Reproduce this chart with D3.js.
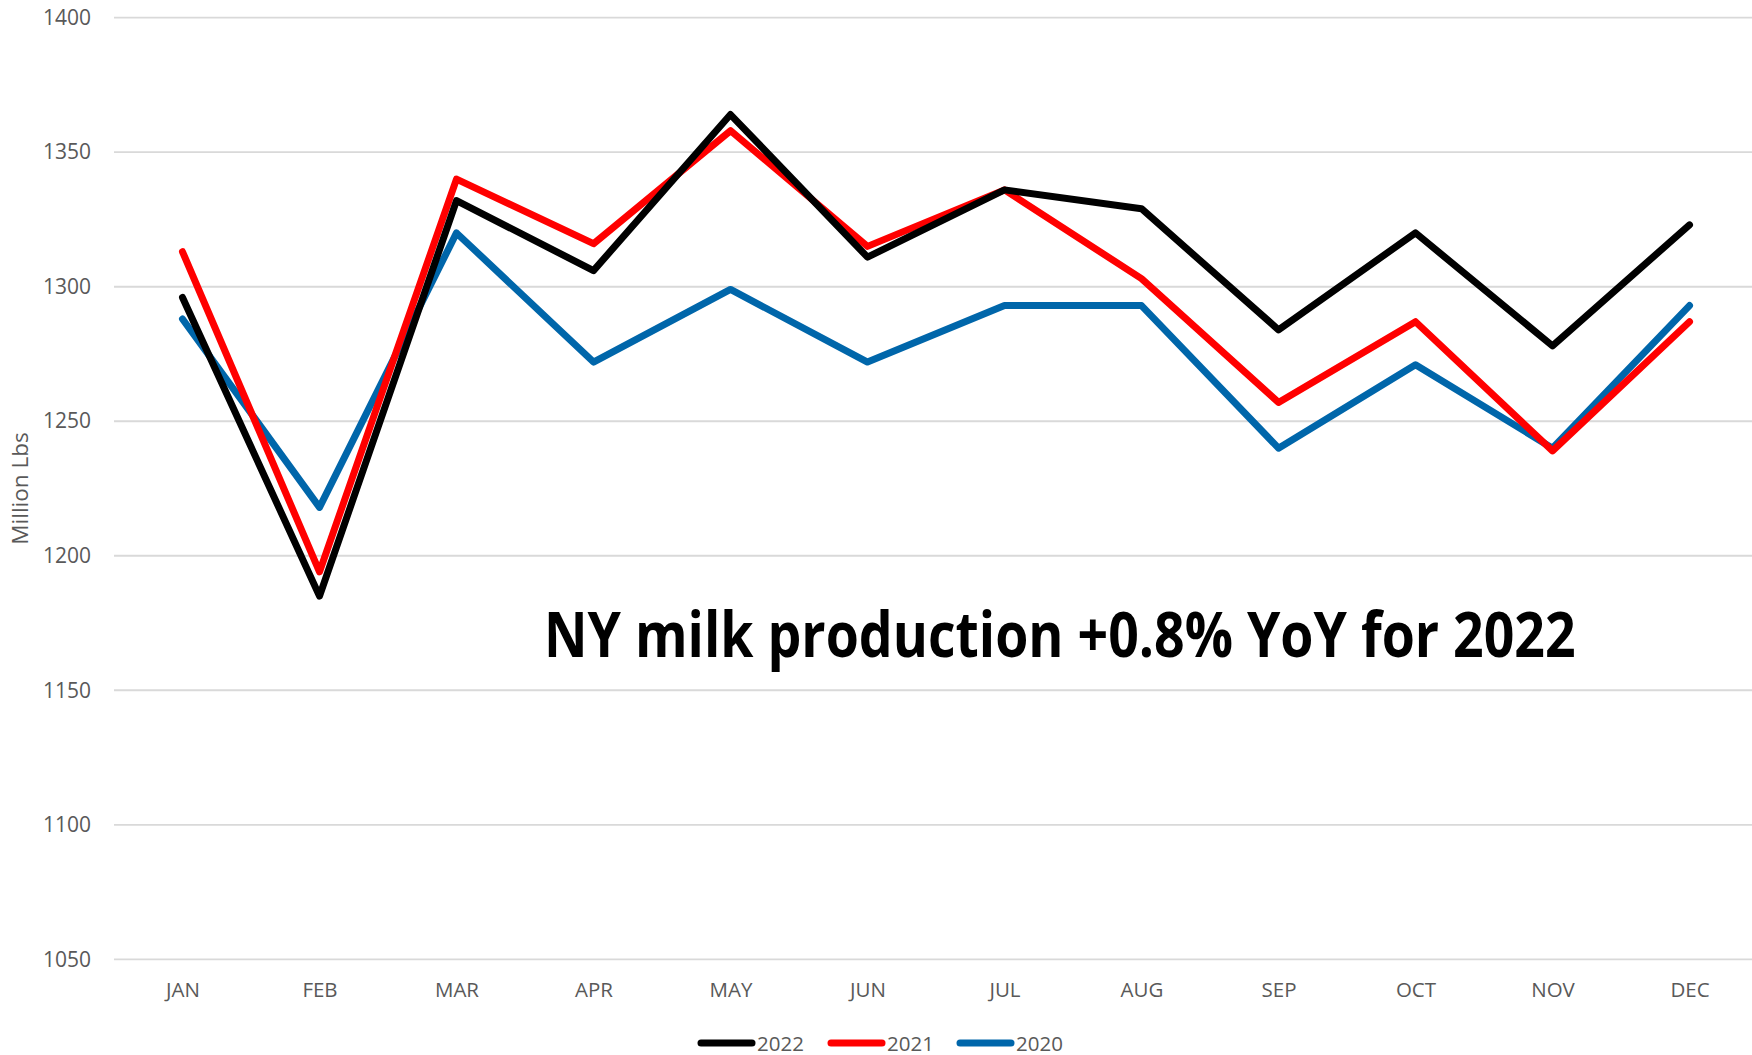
<!DOCTYPE html>
<html>
<head>
<meta charset="utf-8">
<script src="https://cdn.jsdelivr.net/npm/d3@7"></script>
<style>
  html, body { margin: 0; padding: 0; background: #fff; }
  svg { display: block; font-family: "Open Sans", "Noto Sans", sans-serif; }
</style>
</head>
<body>
<div id="chart"></div>
<script>
// NY monthly milk production, million lbs
var months = ["JAN", "FEB", "MAR", "APR", "MAY", "JUN", "JUL", "AUG", "SEP", "OCT", "NOV", "DEC"];
var years = ["2022", "2021", "2020"];
var values2022 = [1296, 1185, 1332, 1306, 1364, 1311, 1336, 1329, 1284, 1320, 1278, 1323];
var values2021 = [1313, 1194, 1340, 1316, 1358, 1315, 1336, 1303, 1257, 1287, 1239, 1287];
var values2020 = [1288, 1218, 1320, 1272, 1299, 1272, 1293, 1293, 1240, 1271, 1240, 1293];
var yTicks = [1050, 1100, 1150, 1200, 1250, 1300, 1350, 1400];
var note = "NY milk production +0.8% YoY for 2022";

(function() {
	var width = 1752, height = 1055;
	var margin = { top: 17.7, left: 114, right: -6, bottom: 95.7 };

	var colors = { "2022": "#000000", "2021": "#ff0000", "2020": "#0066aa" };
	var series = [
		{ year: "2022", values: values2022 },
		{ year: "2021", values: values2021 },
		{ year: "2020", values: values2020 }
	];

	var svg = d3.select("#chart")
		.append("svg")
		.attr("width", width)
		.attr("height", height);

	var xScale = d3.scalePoint()
		.domain(months)
		.range([margin.left, width - margin.right])
		.padding(0.5);

	var yScale = d3.scaleLinear()
		.domain([1050, 1400])
		.range([height - margin.bottom, margin.top]);

	// gridlines
	svg.append("g")
		.selectAll("line")
		.data(yTicks)
		.enter()
		.append("line")
		.attr("x1", margin.left)
		.attr("x2", width)
		.attr("y1", function(d) { return yScale(d); })
		.attr("y2", function(d) { return yScale(d); })
		.attr("stroke", "#d9d9d9")
		.attr("stroke-width", 1.8);

	// y axis labels
	var yAxis = d3.axisLeft(yScale)
		.tickValues(yTicks)
		.tickFormat(d3.format("d"))
		.tickSize(0)
		.tickPadding(23);
	var gy = svg.append("g")
		.attr("transform", "translate(" + margin.left + ",0)")
		.call(yAxis);
	gy.select(".domain").remove();
	gy.selectAll("text")
		.attr("fill", "#595959")
		.style("font-size", "21px")
		.style("font-family", "'Open Sans', sans-serif");

	// x axis labels
	var xAxis = d3.axisBottom(xScale).tickSize(0).tickPadding(23);
	var gx = svg.append("g")
		.attr("transform", "translate(0," + yScale(1050) + ")")
		.call(xAxis);
	gx.select(".domain").remove();
	gx.selectAll("text")
		.attr("fill", "#595959")
		.style("font-size", "20.5px")
		.style("font-family", "'Open Sans', sans-serif");

	// y title
	svg.append("text")
		.attr("transform", "translate(28," + yScale(1225) + ") rotate(-90)")
		.attr("text-anchor", "middle")
		.attr("fill", "#595959")
		.style("font-size", "22.5px")
		.text("Million Lbs");

	// lines
	var line = d3.line()
		.x(function(d, i) { return xScale(months[i]); })
		.y(function(d) { return yScale(d); });

	svg.append("g")
		.selectAll("path")
		.data(series.slice().reverse())
		.enter()
		.append("path")
		.attr("d", function(d) { return line(d.values); })
		.attr("fill", "none")
		.attr("stroke", function(d) { return colors[d.year]; })
		.attr("stroke-width", 7)
		.attr("stroke-linejoin", "round")
		.attr("stroke-linecap", "round");

	// annotation, squeezed horizontally to look like a condensed bold face
	var noteG = svg.append("g");
	var noteText = noteG.append("text")
		.attr("x", 0)
		.attr("y", 0)
		.attr("fill", "#000")
		.style("font-size", "62px")
		.style("font-weight", "bold")
		.style("font-family", "'Open Sans', sans-serif")
		.text(note);
	var natural = noteText.node().getComputedTextLength();
	noteG.attr("transform", "translate(544,657) scale(" + (1032 / natural) + ",1)");

	// legend
	var legendX = [698, 828, 957];
	var legend = svg.append("g")
		.selectAll("g")
		.data(years)
		.enter()
		.append("g")
		.attr("transform", function(d, i) { return "translate(" + legendX[i] + ",1043)"; });

	legend.append("line")
		.attr("x1", 3)
		.attr("x2", 54)
		.attr("stroke", function(d) { return colors[d]; })
		.attr("stroke-width", 7)
		.attr("stroke-linecap", "round");

	legend.append("text")
		.attr("x", 59)
		.attr("y", 7.5)
		.attr("fill", "#595959")
		.style("font-size", "20.5px")
		.text(function(d) { return d; });
})();
</script>
</body>
</html>
